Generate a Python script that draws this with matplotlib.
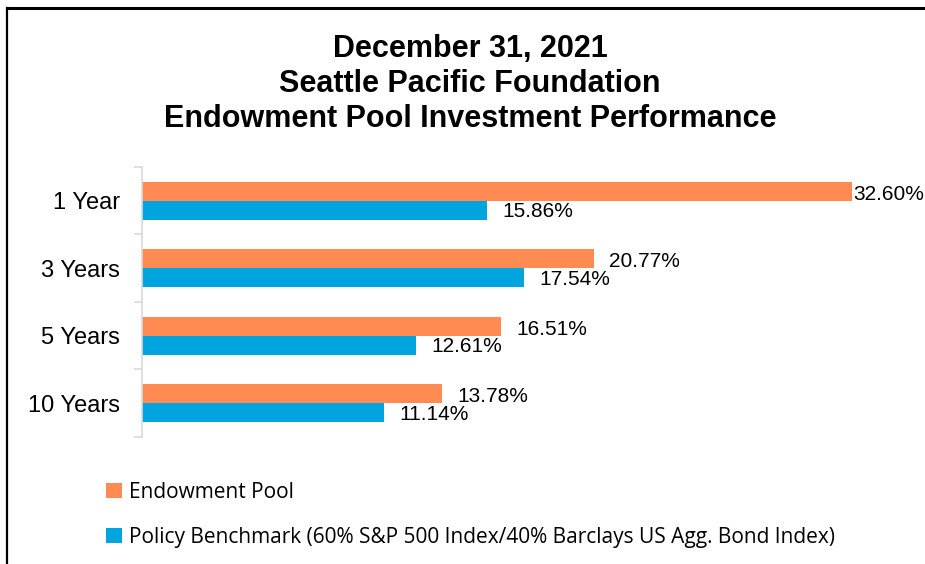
import matplotlib
matplotlib.use("Agg")
import matplotlib.pyplot as plt
from matplotlib import font_manager
from matplotlib.lines import Line2D

# data
periods = ["1 Year", "3 Years", "5 Years", "10 Years"]
endowment = [32.60, 20.77, 16.51, 13.78]
benchmark = [15.86, 17.54, 12.61, 11.14]
series_names = ["Endowment Pool",
                "Policy Benchmark (60% S&P 500 Index/40% Barclays US Agg. Bond Index)"]
title = "December 31, 2021\nSeattle Pacific Foundation\nEndowment Pool Investment Performance"

orange = "#FF8B53"
blue = "#00A5DF"

installed = {f.name for f in font_manager.fontManager.ttflist}
legend_font = "Liberation Sans Narrow" if "Liberation Sans Narrow" in installed else "Open Sans"

plt.rcParams["font.family"] = ["Liberation Sans", "DejaVu Sans"]

fig = plt.figure(figsize=(9.25, 5.64), dpi=100)
ax = fig.add_axes([0.1535, 0.2252, 0.80, 0.4787])

y = list(range(len(periods)))
h = 0.28
ax.barh([i - h / 2 for i in y], endowment, height=h, color=orange, label=series_names[0])
ax.barh([i + h / 2 for i in y], benchmark, height=h, color=blue, label=series_names[1])

ax.set_xlim(0, 34.0)
ax.set_ylim(len(periods) - 0.5, -0.5)

# value labels (the biggest one hugs its bar, Excel-style)
top = max(endowment)
for i, v in enumerate(endowment):
    off = 1 if v == top else 11
    ax.annotate(f"{v:.2f}%", (v, i - h / 2), xytext=(off, -2), textcoords="offset points",
                ha="left", va="center", fontsize=15)
for i, v in enumerate(benchmark):
    ax.annotate(f"{v:.2f}%", (v, i + h / 2), xytext=(11, -1), textcoords="offset points",
                ha="left", va="center", fontsize=15)

ax.set_yticks(y)
ax.set_yticklabels(periods, fontsize=17)
ax.tick_params(axis="y", which="major", length=0, pad=16)
ax.set_yticks([i - 0.5 for i in range(len(periods) + 1)], minor=True)
ax.tick_params(axis="y", which="minor", length=6, width=1.2, color="#D9D9D9")
ax.set_xticks([])
for s in ["top", "right", "bottom"]:
    ax.spines[s].set_visible(False)
ax.spines["left"].set_color("#D9D9D9")
ax.spines["left"].set_linewidth(1.2)

fig.text(0.508, 0.94, title, ha="center", va="top", fontsize=22, fontweight="bold",
         linespacing=1.22)

ax.legend(loc="upper left", bbox_to_anchor=(0.115, 0.146), bbox_transform=fig.transFigure,
          frameon=False, handlelength=0.75, handleheight=0.75, handletextpad=0.35,
          labelspacing=1.15, borderpad=0, borderaxespad=0,
          prop={"family": legend_font, "size": 15})

# frame lines on top and left, like the cropped screenshot
fig.add_artist(Line2D([0.0076, 1.0], [0.985, 0.985], color="black", lw=2.2, transform=fig.transFigure))
fig.add_artist(Line2D([0.0076, 0.0076], [0.0, 0.985], color="black", lw=1.6, transform=fig.transFigure))

fig.savefig("out.png", dpi=100)
